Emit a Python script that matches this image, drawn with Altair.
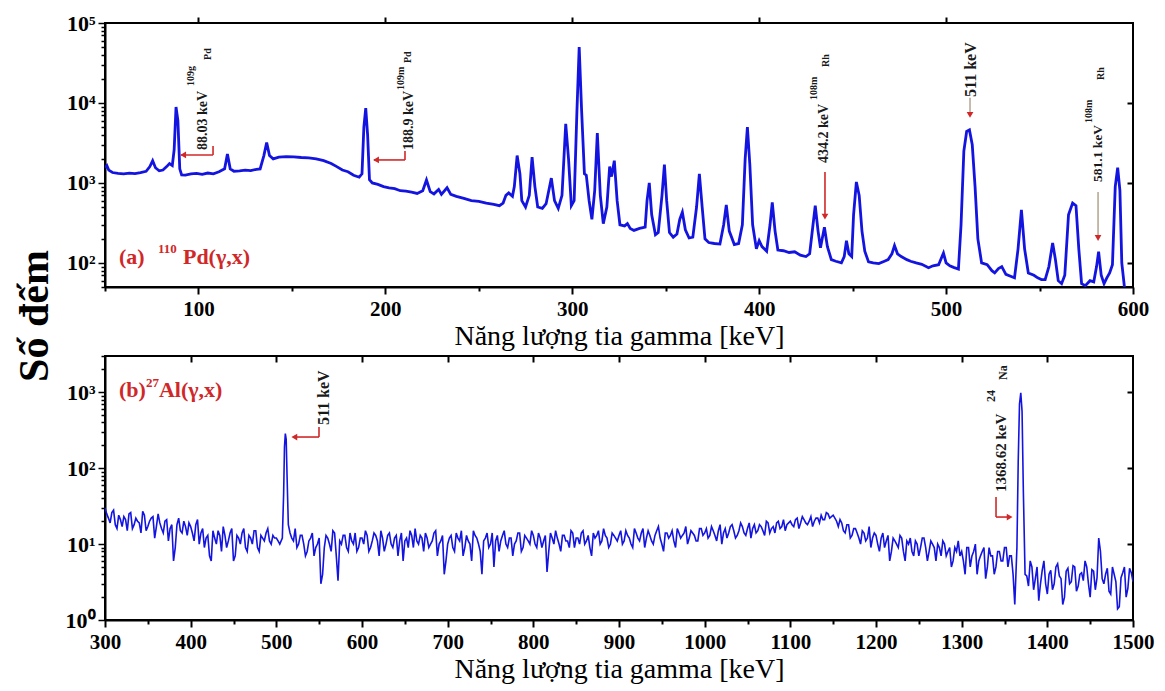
import altair as alt
import pandas as pd

# ---------------- (a) 110Pd(gamma,x) spectrum: (energy keV, counts) ----------------
pd_spectrum = [
    (50, 1550), (51, 1650), (52, 1450), (54, 1350), (57, 1320), (60, 1300), (63, 1330), (66, 1310),
    (69, 1350), (72, 1400), (74, 1600), (75.5, 1900), (77, 1550), (79, 1420), (81, 1450), (83, 1600),
    (84.5, 1750), (86, 1650), (87, 2600), (88, 8900), (89, 6000), (90, 1500), (91, 1260), (93, 1250),
    (96, 1300), (99, 1320), (102, 1280), (105, 1330), (108, 1300), (111, 1380), (114, 1500), (115.5, 2300),
    (117, 1500), (119, 1400), (122, 1420), (125, 1450), (128, 1430), (131, 1480), (133, 1500), (135, 2200),
    (136.5, 3200), (138, 2200), (140, 2000), (143, 2100), (147, 2130), (151, 2120), (155, 2080), (159, 2060),
    (163, 2000), (167, 1900), (171, 1750), (174, 1600), (177, 1450), (180, 1380), (183, 1250), (186, 1180),
    (187.5, 1300), (188.5, 5000), (189.5, 8600), (190.5, 4000), (191.5, 1100), (193, 1000), (196, 960),
    (199, 900), (202, 870), (205, 850), (208, 800), (211, 790), (214, 770), (217, 740), (220, 800),
    (222, 1090), (224, 780), (226, 730), (228.5, 830), (230, 720), (233, 870), (235, 720), (238, 680),
    (242, 640), (246, 600), (250, 590), (254, 560), (258, 540), (261, 520), (263, 560), (264.5, 700),
    (266, 750), (268, 680), (269, 900), (270.5, 2200), (272, 1300), (273, 600), (275, 500), (277, 700),
    (278.5, 2100), (280, 900), (281.5, 500), (284, 480), (286, 550), (288.8, 1150), (290.5, 600),
    (292.5, 480), (294.5, 700), (296.5, 5500), (298, 2000), (299.5, 520), (301, 600), (302.5, 8000),
    (303.7, 50000), (305, 8000), (306.5, 1300), (307.5, 1250), (309, 600), (310.5, 350), (312, 800),
    (313.4, 4200), (315, 700), (316.6, 310), (318.5, 500), (320, 1600), (321, 1200), (322.5, 1900),
    (324, 600), (325.5, 300), (328, 290), (329.5, 310), (331, 270), (333, 255), (336, 270), (339, 280),
    (340, 600), (341.2, 1000), (342.5, 400), (344.5, 225), (346, 240), (348, 700), (349.3, 1700),
    (350.5, 600), (352, 240), (354, 210), (356, 230), (357.5, 350), (358.9, 430), (360.5, 260),
    (362.5, 205), (364.5, 210), (366.5, 500), (368, 1300), (369.5, 500), (371, 200), (373, 180),
    (376, 175), (379, 172), (381, 300), (382.4, 530), (384, 250), (386.7, 170), (389, 175), (391, 300),
    (392.5, 2000), (393.7, 5000), (395, 1700), (396.5, 300), (398.5, 150), (400, 190), (401.5, 160),
    (404, 140), (405.8, 300), (407, 570), (408.5, 250), (410, 145), (413, 142), (416, 135), (419, 138),
    (422, 125), (425, 120), (427, 130), (428.8, 300), (430, 520), (431.5, 250), (432.8, 155),
    (434.9, 280), (436.5, 160), (438.6, 110), (441, 105), (444, 100), (445.5, 120), (446.7, 190),
    (448, 130), (449.5, 120), (450.5, 400), (452, 1030), (453.5, 700), (455, 250), (456.5, 140),
    (458.5, 103), (461, 100), (464, 98), (467, 105), (469, 110), (471, 130), (472.4, 165), (474, 130),
    (476, 120), (479, 110), (481, 105), (484, 100), (487, 96), (490.6, 87), (493, 92), (496, 95),
    (498.6, 133), (500, 100), (502, 92), (504, 88), (506.6, 84), (508, 300), (509.5, 2500), (511, 4400),
    (512.5, 4600), (514, 3000), (515.5, 900), (517, 200), (519, 100), (522, 95), (524.5, 80), (526, 75),
    (528, 85), (529.8, 90), (532, 72), (534.5, 68), (536.6, 65), (538.5, 150), (540.3, 460), (542, 150),
    (544, 75), (547, 70), (549, 65), (551, 62), (553, 62), (555, 90), (557, 178), (558.5, 110), (560, 60),
    (561.8, 55), (563.5, 70), (565.5, 400), (567.7, 560), (569.5, 520), (571, 150), (572.5, 55),
    (574.5, 52), (577, 60), (579, 58), (580.5, 90), (581.6, 138), (583, 70), (584.5, 55), (586, 65),
    (587.5, 75), (589, 95), (590.5, 900), (591.8, 1550), (593, 800), (594, 100), (595.5, 48), (600, 47),
]

# ---------------- (b) 27Al(gamma,x) spectrum ----------------
# channels read every 4 keV starting at 300 keV ...
al_grid_energy = list(range(300, 1501, 4))
al_grid_counts = (
    [30, 22, 26, 18, 24, 17, 21, 25, 16, 22, 19, 27, 15, 20, 23, 17, 19, 14, 21, 16, 6, 18, 15, 20, 13]
    + [17, 11, 21, 14, 9, 13, 6, 12, 15, 8, 13, 11, 16, 7, 12, 14, 9, 13, 10, 15, 8, 12, 14, 11, 13]
    + [12, 10, 12, 12, 14, 11, 9, 13, 10, 8, 12, 7, 10, 3, 9, 12, 8, 14, 3.3, 10, 13, 8, 11, 14, 9]
    + [12, 15, 8, 11, 13, 7, 12, 10, 14, 9, 13, 11, 6, 12, 15, 9, 11, 13, 8, 12, 10, 14, 7, 11, 4]
    + [10, 13, 8, 12, 15, 9, 11, 6, 13, 10, 4, 12, 9, 14, 11, 8, 13, 10, 12, 7, 11, 14, 9, 12, 10]
    + [13, 9, 12, 11, 4.3, 14, 10, 12, 8, 13, 11, 15, 9, 12, 14, 10, 13, 7, 12, 15, 11, 13, 9, 14, 12]
    + [13, 10, 15, 12, 9, 14, 11, 16, 12, 13, 10, 15, 12, 8, 14, 13, 11, 16, 12, 14, 10, 15, 13, 11, 16]
    + [14, 12, 17, 13, 15, 10, 16, 14, 18, 12, 15, 17, 13, 19, 16, 14, 18, 15, 20, 14, 17, 19, 16, 21, 18]
    + [20, 17, 22, 19, 21, 18, 23, 20, 22, 24, 21, 25, 23, 22, 17, 19, 14, 18, 13, 16, 12, 15, 11, 17, 12]
    + [13, 8, 14, 11, 6, 12, 10, 13, 8, 11, 12, 7, 10, 9, 12, 6, 11, 9, 10, 7, 10, 8, 5, 9, 11]
    + [8, 4, 9, 7, 10, 6, 8, 3.5, 9, 7, 5, 8, 6, 9, 7, 4, 8, 8, 8, 3.8, 6, 2.5, 5, 3, 6]
    + [2.2, 4.5, 3, 5.5, 3.5, 2, 4.8, 3.2, 5, 2.8, 4.2, 6, 3, 4.6, 2.5, 12, 3.5, 4, 2.4, 5, 3.2, 1.5, 4.2, 2, 4.8, 3.2]
)
# ... and the channels in between, every 4 keV starting at 302 keV
al_mid_energy = list(range(302, 1499, 4))
al_mid_counts = (
    [25, 19, 28, 16, 21, 23, 15, 26, 18, 20, 14, 24, 17, 22, 12, 25, 16, 20, 11, 18, 9, 22, 14, 17, 19]
    + [14, 18, 10, 16, 12, 7, 15, 10, 13, 17, 9, 14, 6, 13, 10, 16, 8, 12, 15, 9, 13, 11, 16, 10, 12]
    + [11, 12, 12, 12, 12, 16, 10, 13, 7, 11, 14, 9, 12, 4, 13, 10, 15, 7, 11, 13, 9, 14, 10, 8, 12]
    + [10, 13, 9, 14, 11, 15, 8, 13, 10, 12, 7, 14, 11, 9, 13, 16, 10, 12, 14, 9, 11, 15, 10, 13, 6]
    + [12, 9, 14, 11, 7, 13, 10, 15, 12, 8, 11, 14, 10, 5, 13, 11, 15, 9, 12, 10, 14, 8, 13, 11, 15]
    + [10, 14, 9, 13, 8, 12, 15, 10, 13, 11, 9, 14, 12, 10, 15, 11, 9, 14, 13, 10, 16, 12, 10, 13, 11]
    + [15, 11, 13, 10, 16, 12, 14, 9, 15, 11, 13, 17, 10, 14, 12, 15, 9, 14, 13, 17, 12, 14, 11, 16, 13]
    + [16, 13, 15, 11, 18, 14, 12, 17, 15, 13, 19, 14, 16, 12, 18, 15, 17, 13, 19, 16, 14, 20, 17, 15, 19]
    + [18, 21, 16, 23, 19, 20, 17, 22, 19, 21, 26, 22, 24, 20, 21, 15, 18, 12, 16, 14, 10, 14, 12, 9, 14]
    + [10, 12, 9, 13, 8, 11, 9, 12, 6, 10, 8, 11, 7, 12, 9, 8, 10, 6, 9, 11, 7, 9, 6, 8, 7]
    + [6, 9, 5, 8, 4, 7, 9, 5, 7, 4, 8, 6, 9, 5, 7, 8, 8, 8, 8, 2.8, 5, 3.5, 1.8, 4.5, 3]
    + [4, 2.5, 5, 3.8, 1.6, 4.4, 3, 5.2, 2.4, 4, 3.3, 5, 2, 4.4, 3.6, 8, 3, 4.8, 2.2, 4, 1.4, 3.6, 5, 2.6, 4.2]
)
al_peak_energy = [507, 508.5, 509.5, 510.5, 511.5, 512.5, 514,
                  1362, 1364.5, 1366, 1367.5, 1369, 1370.5, 1372, 1374]
al_peak_counts = [12, 45, 190, 285, 240, 80, 18,
                  1.6, 9, 120, 700, 980, 560, 50, 4]
al_peak_windows = [(506, 515), (1361, 1375)]

# ---------------- annotations: (text, energy, counts, font size, angle, colour) ----------------
DARK = "#1a1a1a"
RED = "#d02828"
top_texts = [
    ("88.03 keV", 102.4, 2585, 14, 270, DARK), ("109g", 96.0, 16300, 10, 270, DARK), ("Pd", 105.1, 34500, 10, 270, DARK),
    ("188.9 keV", 212.6, 2585, 14, 270, DARK), ("109m", 208.4, 14500, 10, 270, DARK), ("Pd", 212.1, 31600, 10, 270, DARK),
    ("434.2 keV", 434.7, 1778, 14, 270, DARK), ("108m", 429.3, 10900, 10, 270, DARK), ("Rh", 435.8, 28200, 10, 270, DARK),
    ("511 keV", 513.3, 11900, 16, 270, DARK),
    ("581.1 keV", 581.3, 1030, 13.5, 270, DARK), ("108m", 576.5, 5620, 10, 270, DARK), ("Rh", 582.9, 19400, 10, 270, DARK),
    ("(a)", 57.5, 119, 22, 0, RED), ("110", 78.4, 150, 13, 0, RED), ("Pd(γ,x)", 91.7, 119, 22, 0, RED),
]
bot_texts = [
    ("511 keV", 555.6, 370, 16, 270, DARK),
    ("1368.62 keV", 1345.9, 48.4, 15, 270, DARK), ("24", 1334.2, 743, 12, 270, DARK), ("Na", 1348.2, 1449, 12, 270, DARK),
    ("(b)", 316.3, 1069, 22, 0, RED), ("27", 348.0, 1321, 13, 0, RED), ("Al(γ,x)", 363.0, 1069, 22, 0, RED),
]
GRAY = "#b8aa98"
# arrow shafts: (x1, x2, y1, y2, colour)
top_segments = [
    (90.7, 107.8, 2239, 2239, RED), (107.8, 107.8, 2239, 2900, RED),
    (193.9, 210.5, 1939, 1939, RED), (210.5, 210.5, 1939, 2512, RED),
    (435.2, 435.2, 1372, 400, RED),
    (512.8, 512.8, 11600, 7600, GRAY),
    (581.3, 581.3, 772, 220, GRAY),
]
bot_segments = [
    (519.4, 549.8, 257, 257, RED), (549.8, 549.8, 257, 348, RED),
    (1340.1, 1340.1, 41.6, 22.7, RED), (1340.1, 1357.6, 22.7, 22.7, RED),
]
# arrow heads: (x, y, shape)
top_heads = [(91.8, 2239, "triangle-left"), (195.0, 1939, "triangle-left"), (435.2, 380, "triangle-down"),
             (512.8, 7080, "triangle-down"), (581.3, 205, "triangle-down")]
bot_heads = [(521.0, 257, "triangle-left"), (1356.0, 22.7, "triangle-right")]

Y_TITLE = "Số đếm"
XTITLE = "Năng lượng tia gamma [keV]"

# ---------------- tick positions ----------------
top_x_ticks = list(range(50, 601, 50))
top_x_major = list(range(100, 501, 100))
bot_x_ticks = list(range(300, 1501, 50))
bot_x_major = list(range(400, 1401, 100))
top_y_ticks = [m * 10 ** e for e in range(1, 5) for m in range(1, 10) if 50 <= m * 10 ** e <= 100000] + [100000]
bot_y_ticks = [m * 10 ** e for e in range(0, 4) for m in range(1, 10) if m * 10 ** e <= 3000]

# ---------------- build tables ----------------
top_df = pd.DataFrame(pd_spectrum, columns=["E", "C"])
al_rows = list(zip(al_grid_energy, al_grid_counts)) + list(zip(al_mid_energy, al_mid_counts))
al_rows = [(e, c) for e, c in al_rows if not any(lo <= e <= hi for lo, hi in al_peak_windows)]
al_rows += list(zip(al_peak_energy, al_peak_counts))
bot_df = pd.DataFrame(sorted(al_rows), columns=["E", "C"])

FONT = "Liberation Serif"
BLUE = "#1414e0"

IS_DECADE = "abs(log(datum.value)/LN10 - round(log(datum.value)/LN10)) < 0.001"
Y_LABEL = ("(" + IS_DECADE + ") ? ['10⁰','10¹','10²','10³','10⁴','10⁵'][round(log(datum.value)/LN10)] : ''")


def x_axis(values):
    return alt.Axis(values=values, format="d",
                    labelExpr="datum.value % 100 == 0 ? format(datum.value, 'd') : ''",
                    tickSize={"condition": {"test": "datum.value % 100 == 0", "value": 7}, "value": 4},
                    tickWidth=2, tickColor="black", domainColor="black", domainWidth=2, grid=False,
                    labelFont=FONT, labelFontSize=21, labelFontWeight="bold", labelColor="black",
                    labelPadding=4, labelFlush=False, labelOverlap=False,
                    title=XTITLE, titleFont=FONT, titleFontSize=28, titleFontWeight="normal",
                    titleColor="black", titlePadding=3)


def y_axis(values):
    return alt.Axis(values=values, labelExpr=Y_LABEL,
                    tickSize={"condition": {"test": IS_DECADE, "value": 7}, "value": 4},
                    tickWidth=1.5, tickColor="black", domainColor="black", domainWidth=2, grid=False,
                    labelFont=FONT, labelFontSize=22, labelFontWeight="bold", labelColor="black",
                    labelPadding=3, labelFlush=False, labelOverlap=False, title=None)


def mirror_axis(orient, values, inward):
    kw = dict(orient=orient, values=values, labels=False, title=None, domain=False, grid=False,
              tickSize=6, tickWidth=2, tickColor="black")
    if inward:
        kw["offset"] = -6
    return alt.Axis(**kw)


def panel(df, texts, segments, heads, xs, ys, xticks, xmajor, yticks, ymajor, top_inward, line_w, extra=None):
    base = alt.Chart(df)
    line = base.mark_line(color=BLUE, strokeWidth=line_w, clip=True, interpolate="linear").encode(
        x=alt.X("E:Q", scale=xs, axis=x_axis(xticks)),
        y=alt.Y("C:Q", scale=ys, axis=y_axis(yticks)),
    )
    mirror = base.mark_line(opacity=0).encode(
        x=alt.X("E:Q", scale=xs, axis=mirror_axis("top", xmajor, top_inward)),
        y=alt.Y("C:Q", scale=ys, axis=mirror_axis("right", ymajor, True)),
    )
    seg_df = pd.DataFrame(segments, columns=["x1", "x2", "y1", "y2", "col"])
    rules = alt.Chart(seg_df).mark_rule(strokeWidth=1.6).encode(
        x=alt.X("x1:Q", scale=xs, axis=None), x2="x2:Q",
        y=alt.Y("y1:Q", scale=ys, axis=None), y2="y2:Q",
        color=alt.Color("col:N", scale=None),
    )
    head_df = pd.DataFrame(heads, columns=["x", "y", "shape"])
    arrow_heads = alt.Chart(head_df).mark_point(filled=True, size=45, color=RED, opacity=1).encode(
        x=alt.X("x:Q", scale=xs, axis=None),
        y=alt.Y("y:Q", scale=ys, axis=None),
        shape=alt.Shape("shape:N", scale=None),
    )
    txt_df = pd.DataFrame(texts, columns=["t", "E", "C", "s", "a", "col"])
    labels = alt.Chart(txt_df).mark_text(align="left", baseline="middle", font=FONT, fontWeight="bold").encode(
        x=alt.X("E:Q", scale=xs, axis=None),
        y=alt.Y("C:Q", scale=ys, axis=None),
        text="t:N",
        size=alt.Size("s:Q", scale=None),
        angle=alt.Angle("a:Q", scale=None),
        color=alt.Color("col:N", scale=None),
    )
    layers = [line, mirror, rules, arrow_heads, labels]
    if extra is not None:
        layers.append(extra)
    return alt.layer(*layers).resolve_axis(x="independent", y="independent").properties(width=1028, height=264)


# shared y title, placed in the left margin of the top panel, centred on the two panels
y_title = alt.Chart(pd.DataFrame({"t": [Y_TITLE]})).mark_text(
    angle=270, align="center", baseline="middle", font=FONT, fontSize=42, fontWeight="bold", color="black"
).encode(text="t:N", x=alt.value(-70), y=alt.value(293))

top = panel(top_df, top_texts, top_segments, top_heads,
            alt.Scale(domain=[50, 600], nice=False, zero=False),
            alt.Scale(type="log", domain=[50, 100000], nice=False),
            top_x_ticks, top_x_major, top_y_ticks, [100, 1000, 10000], False, 2.8, extra=y_title)
bottom = panel(bot_df, bot_texts, bot_segments, bot_heads,
               alt.Scale(domain=[300, 1500], nice=False, zero=False),
               alt.Scale(type="log", domain=[1, 3000], nice=False),
               bot_x_ticks, bot_x_major, bot_y_ticks, [10, 100, 1000], True, 1.6)

chart = alt.vconcat(top, bottom, spacing=69, bounds="flush").properties(
    padding={"left": 13, "top": 11, "right": 2, "bottom": 1},
    background="white",
).configure_view(stroke="black", strokeWidth=2)

chart.save("out.html", embed_options={"renderer": "svg", "actions": False})
